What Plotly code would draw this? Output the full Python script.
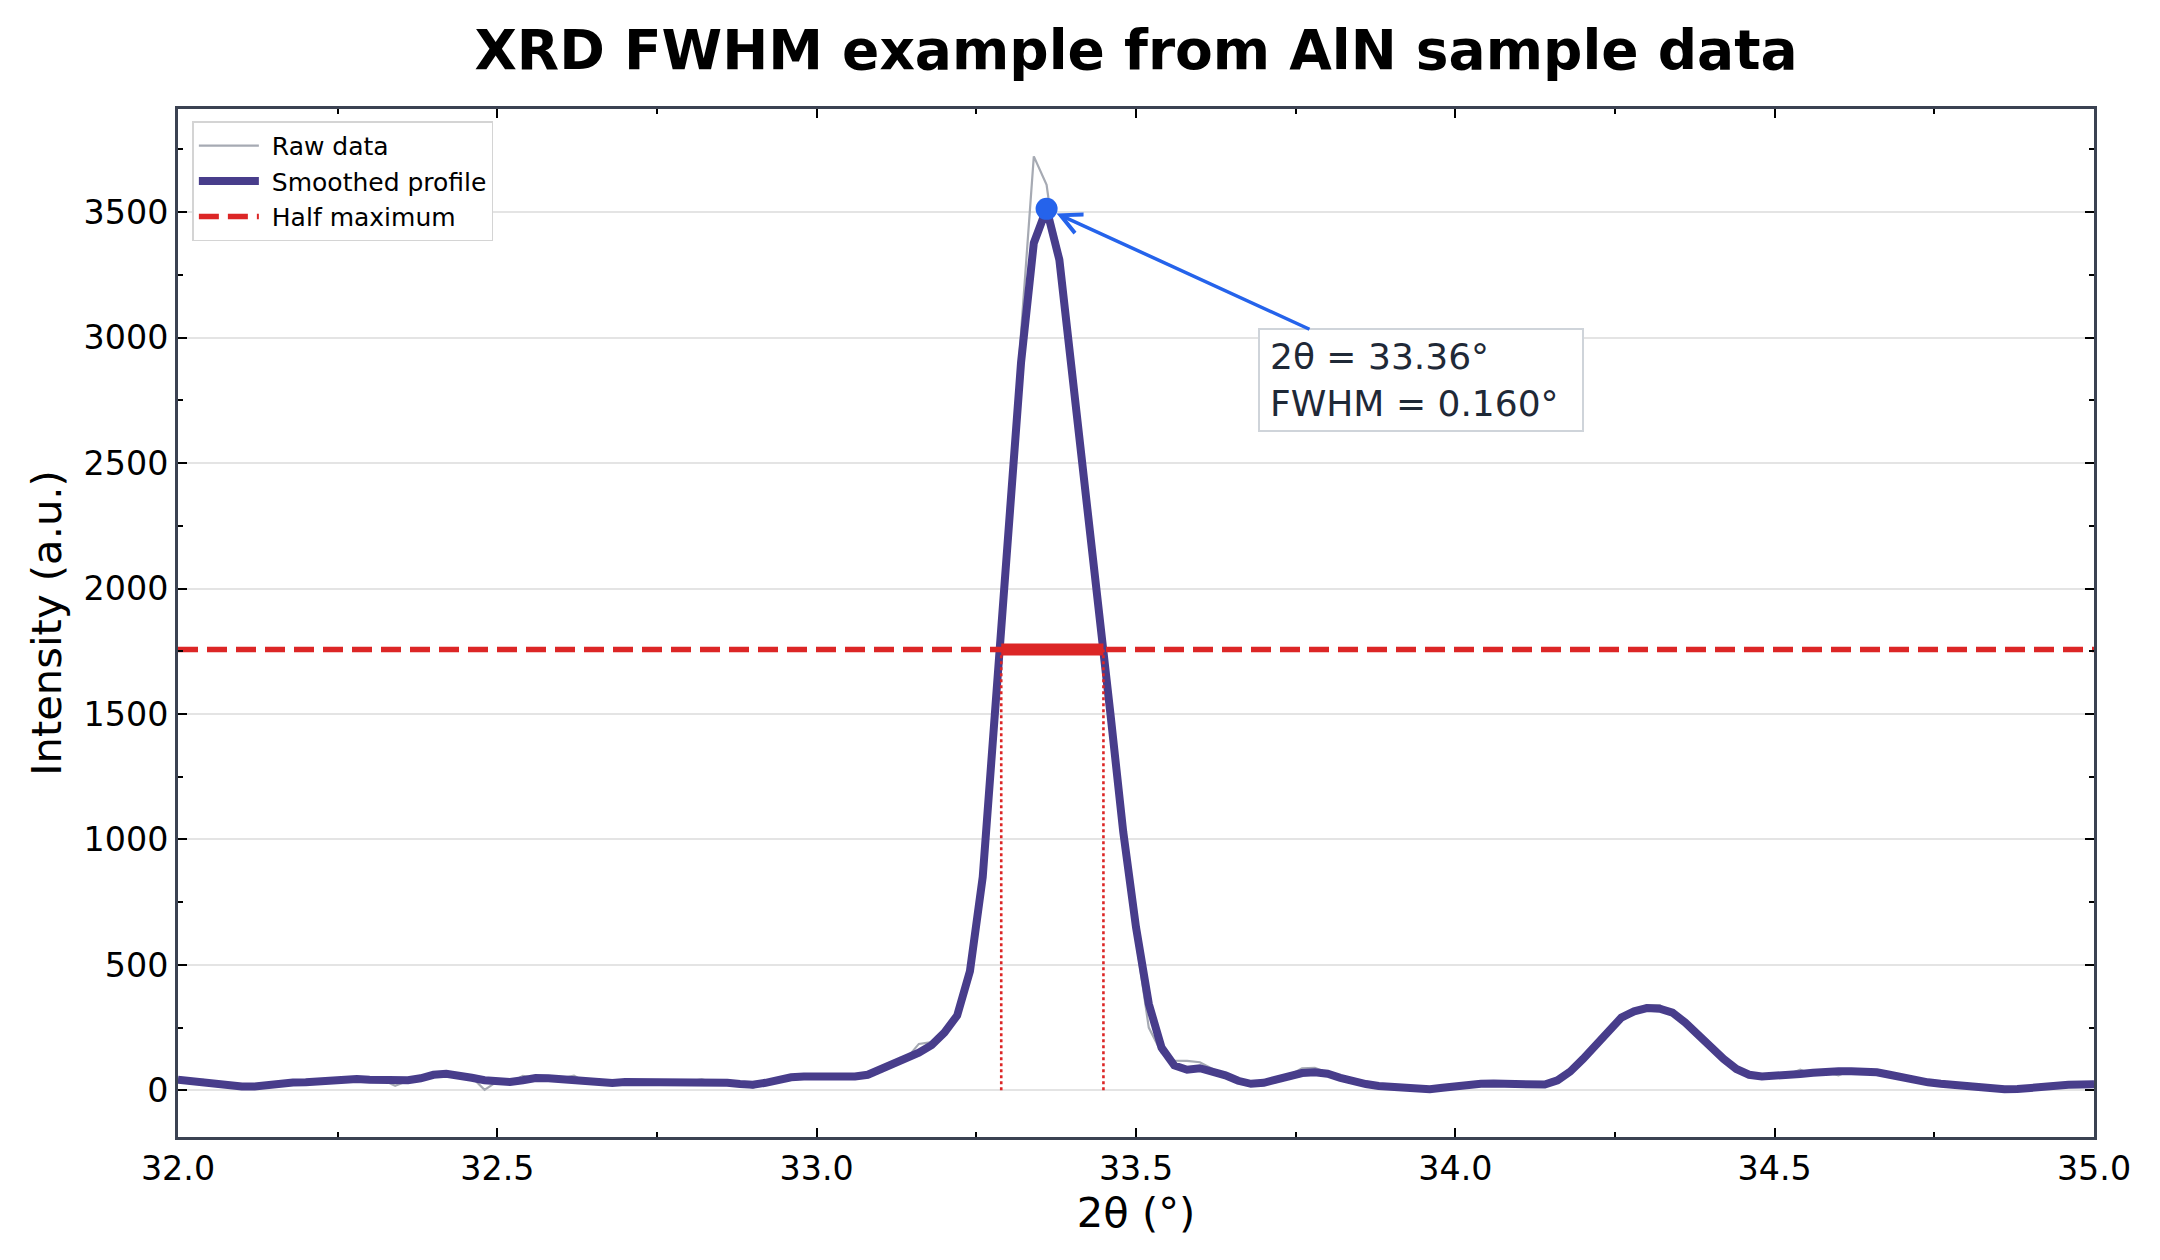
import plotly.graph_objects as go

# 2-theta sampling grid (degrees)
theta = [
    32.00, 32.02, 32.04, 32.06, 32.08, 32.10, 32.12, 32.14, 32.16, 32.18,
    32.20, 32.22, 32.24, 32.26, 32.28, 32.30, 32.32, 32.34, 32.36, 32.38,
    32.40, 32.42, 32.44, 32.46, 32.48, 32.50, 32.52, 32.54, 32.56, 32.58,
    32.60, 32.62, 32.64, 32.66, 32.68, 32.70, 32.72, 32.74, 32.76, 32.78,
    32.80, 32.82, 32.84, 32.86, 32.88, 32.90, 32.92, 32.94, 32.96, 32.98,
    33.00, 33.02, 33.04, 33.06, 33.08, 33.10, 33.12, 33.14, 33.16, 33.18,
    33.20, 33.22, 33.24, 33.26, 33.28, 33.30, 33.32, 33.34, 33.36, 33.38,
    33.40, 33.42, 33.44, 33.46, 33.48, 33.50, 33.52, 33.54, 33.56, 33.58,
    33.60, 33.62, 33.64, 33.66, 33.68, 33.70, 33.72, 33.74, 33.76, 33.78,
    33.80, 33.82, 33.84, 33.86, 33.88, 33.90, 33.92, 33.94, 33.96, 33.98,
    34.00, 34.02, 34.04, 34.06, 34.08, 34.10, 34.12, 34.14, 34.16, 34.18,
    34.20, 34.22, 34.24, 34.26, 34.28, 34.30, 34.32, 34.34, 34.36, 34.38,
    34.40, 34.42, 34.44, 34.46, 34.48, 34.50, 34.52, 34.54, 34.56, 34.58,
    34.60, 34.62, 34.64, 34.66, 34.68, 34.70, 34.72, 34.74, 34.76, 34.78,
    34.80, 34.82, 34.84, 34.86, 34.88, 34.90, 34.92, 34.94, 34.96, 34.98,
    35.00,
]

raw_intensity = [
    48, 40, 42, 22, 14, 12, 16, 24, 30, 30,
    33, 33, 44, 48, 44, 40, 42, 18, 38, 48,
    64, 68, 60, 52, 2, 36, 30, 58, 50, 44,
    48, 58, 30, 28, 27, 35, 32, 30, 32, 28,
    36, 44, 32, 28, 26, 10, 30, 44, 54, 52,
    58, 50, 52, 55, 62, 85, 110, 125, 185, 192,
    215, 300, 460, 820, 1420, 2250, 3020, 3722, 3609, 3240,
    2880, 2400, 1960, 1490, 1060, 600, 250, 150, 118, 117,
    112, 85, 52, 40, 22, 22, 40, 60, 88, 90,
    70, 46, 34, 26, 16, 12, 6, 3, 6, 10,
    20, 22, 28, 26, 28, 22, 18, 16, 42, 70,
    120, 190, 240, 300, 318, 340, 340, 305, 268, 222,
    165, 130, 80, 60, 56, 54, 62, 82, 62, 72,
    60, 80, 76, 74, 60, 52, 38, 34, 24, 22,
    16, 12, 8, 2, 6, 10, 18, 18, 24, 22,
    26,
]

smoothed_intensity = [
    42, 36, 30, 22, 17, 15, 15, 22, 28, 31,
    32, 35, 42, 46, 45, 42, 39, 37, 40, 48,
    62, 66, 60, 50, 40, 33, 33, 40, 49, 48,
    45, 40, 35, 30, 29, 33, 33, 31, 30, 30,
    33, 36, 35, 30, 25, 22, 30, 42, 52, 55,
    54, 54, 52, 55, 62, 82, 106, 128, 150, 180,
    230, 298, 475, 850, 1510, 2230, 2900, 3377, 3513, 3310,
    2870, 2420, 1950, 1500, 1030, 650, 345, 170, 99, 82,
    88, 78, 60, 38, 26, 30, 45, 58, 69, 72,
    66, 50, 35, 25, 17, 12, 7, 4, 4, 10,
    18, 23, 26, 27, 26, 24, 21, 23, 40, 75,
    125, 180, 245, 290, 315, 328, 325, 310, 270, 220,
    170, 125, 85, 62, 55, 56, 60, 65, 70, 75,
    76, 76, 76, 72, 62, 50, 40, 32, 26, 20,
    17, 12, 7, 4, 5, 10, 17, 20, 22, 23,
    24,
]

# peak results
peak_theta = 33.36
peak_intensity = 3513
half_max = 1756.5
fwhm_left = 33.289
fwhm_right = 33.449
fwhm = 0.160

RED = "#dc2626"
BLUE = "#2563eb"
AXIS = "#3b4252"
PAD = "\u00a0"  # gap between legend sample and label

fig = go.Figure()

fig.add_trace(go.Scatter(x=theta, y=raw_intensity, mode="lines", name=PAD + "Raw data",
                         line=dict(color="#a6aab3", width=2.2)))
fig.add_trace(go.Scatter(x=theta, y=smoothed_intensity, mode="lines", name=PAD + "Smoothed profile",
                         line=dict(color="#483d8b", width=8)))
fig.add_trace(go.Scatter(x=[32.0, 35.0], y=[half_max, half_max], mode="lines", name=PAD + "Half maximum",
                         line=dict(color=RED, width=5.5, dash="20px,9px")))
fig.add_trace(go.Scatter(x=[fwhm_left, fwhm_right], y=[half_max, half_max], mode="lines",
                         line=dict(color=RED, width=12), showlegend=False))
fig.add_trace(go.Scatter(x=[fwhm_left, fwhm_left, None, fwhm_right, fwhm_right],
                         y=[0, half_max, None, 0, half_max], mode="lines",
                         line=dict(color=RED, width=2.6, dash="dot"), showlegend=False))
fig.add_trace(go.Scatter(x=[peak_theta], y=[peak_intensity], mode="markers",
                         marker=dict(color=BLUE, size=22), showlegend=False))

fig.add_annotation(x=peak_theta, y=peak_intensity, xref="x", yref="y",
                   ax=33.946, ay=2830, axref="x", ayref="y",
                   text=f"2θ = {peak_theta:.2f}°<br>FWHM = {fwhm:.3f}°",
                   align="left", showarrow=True, arrowhead=5, arrowsize=1.15,
                   arrowwidth=3.5, arrowcolor=BLUE, standoff=11,
                   width=302, height=80,
                   font=dict(size=36, color="#1f2937"),
                   bgcolor="white", bordercolor="#cfd4da", borderwidth=2, borderpad=10)

# page body has an 8px margin, so the figure is drawn 16px smaller than the window
fig.update_layout(
    width=2144, height=1244,
    margin=dict(l=170, r=58, t=101, b=115, autoexpand=False),
    paper_bgcolor="white", plot_bgcolor="white",
    font=dict(family="DejaVu Sans", color="black"),
    title=dict(text="<b>XRD FWHM example from AlN sample data</b>",
               x=0.5, xref="paper", xanchor="center",
               y=1 - 42 / 1244, yref="container", yanchor="middle",
               font=dict(size=55, color="black")),
    legend=dict(x=0.0075, y=0.988, xanchor="left", yanchor="top",
                bgcolor="white", bordercolor="#d4d4d4", borderwidth=1.5,
                font=dict(size=25), tracegroupgap=0, itemwidth=60),
    showlegend=True,
)

fig.update_xaxes(range=[32.0, 35.0], dtick=0.5, tickformat=".1f",
                 ticks="inside", ticklen=9, tickwidth=2.2, tickcolor="black",
                 minor=dict(ticks="inside", ticklen=5, dtick=0.25, tickwidth=1.8, tickcolor="black"),
                 showline=True, linecolor=AXIS, linewidth=3, mirror="ticks",
                 showgrid=False, zeroline=False, automargin=False,
                 tickfont=dict(size=33.3),
                 title=dict(text="2θ (°)", font=dict(size=41.7), standoff=10))

fig.update_yaxes(range=[-186, 3911], dtick=500,
                 ticks="inside", ticklen=9, tickwidth=2.2, tickcolor="black",
                 minor=dict(ticks="inside", ticklen=5, dtick=250, tickwidth=1.8, tickcolor="black",
                            showgrid=False),
                 showline=True, linecolor=AXIS, linewidth=3, mirror="ticks",
                 showgrid=True, gridcolor="#e4e4e4", gridwidth=1.5, zeroline=False, automargin=False,
                 tickfont=dict(size=33.3),
                 title=dict(text="Intensity (a.u.)", font=dict(size=41.7), standoff=9))

fig.write_html("out.html")
